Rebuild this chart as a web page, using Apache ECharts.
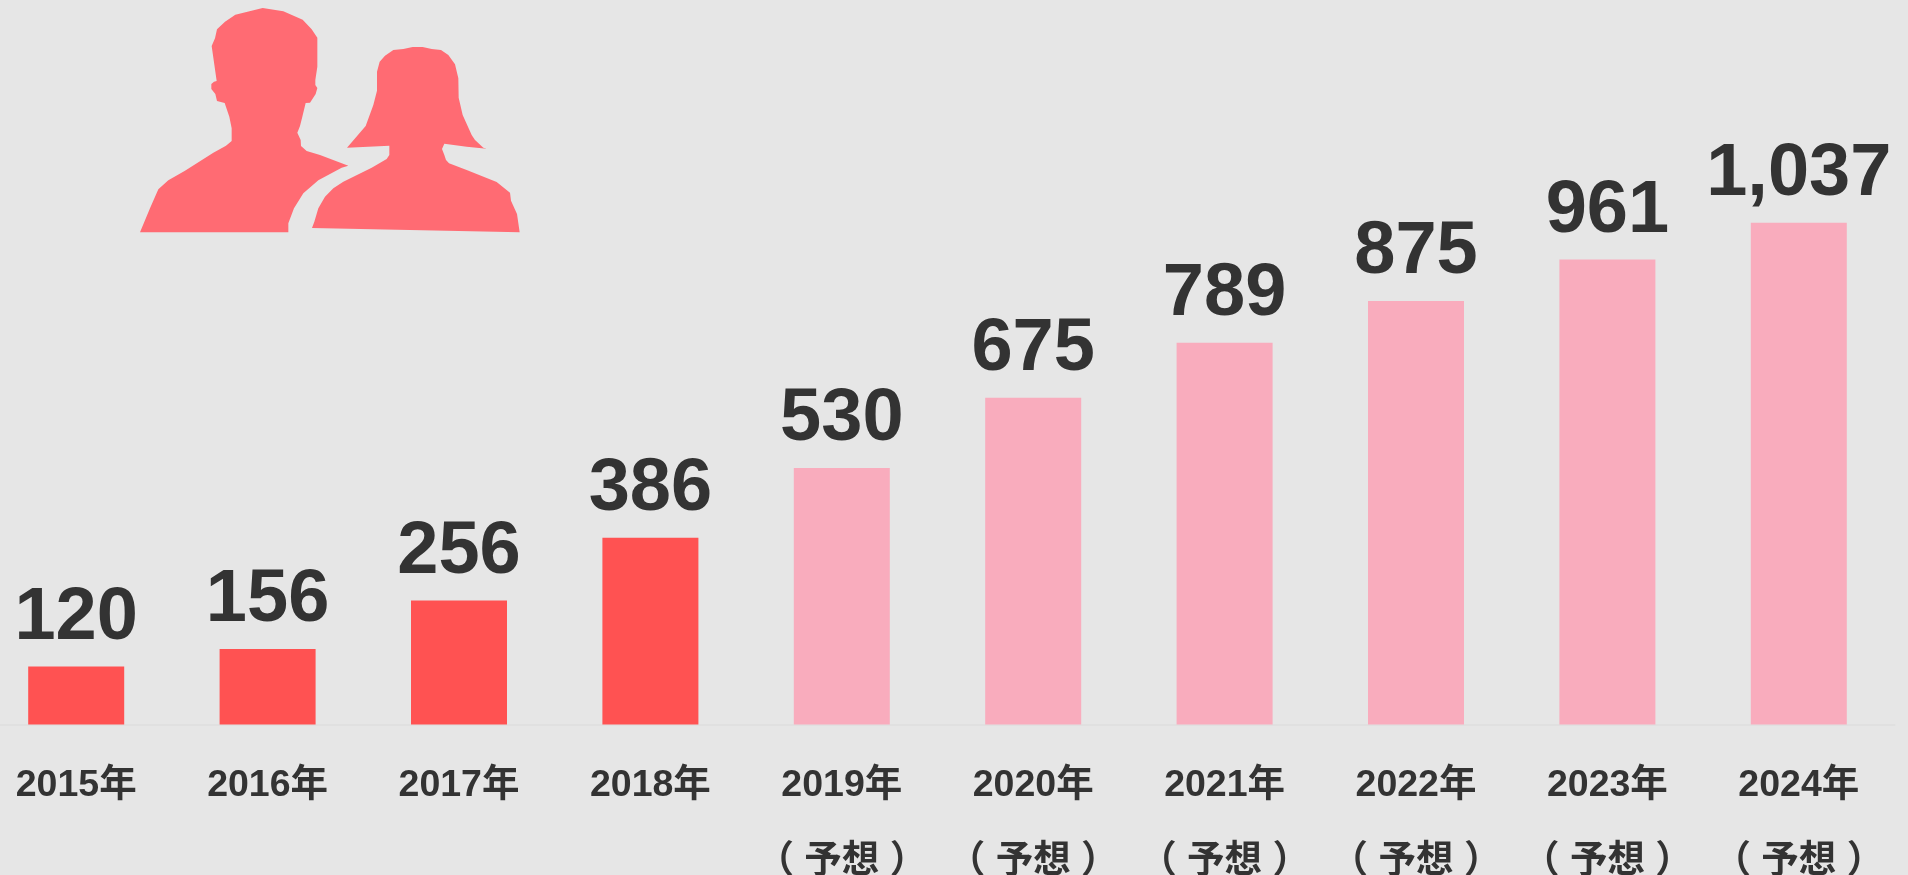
<!DOCTYPE html>
<html><head><meta charset="utf-8">
<style>html,body{margin:0;padding:0;background:#e6e6e6;overflow:hidden}#c{width:1908px;height:875px}</style>
<script src="https://cdn.jsdelivr.net/npm/echarts@6/dist/echarts.min.js"></script>
</head><body><div id="c"></div>
<script>
const years = ['2015年','2016年','2017年','2018年','2019年\n（ 予想 ）','2020年\n（ 予想 ）','2021年\n（ 予想 ）','2022年\n（ 予想 ）','2023年\n（ 予想 ）','2024年\n（ 予想 ）'];
const values = [120,156,256,386,530,675,789,875,961,1037];
const actualCount = 4;
const actualColor = '#ff5252';
const forecastColor = '#f9acbd';
const font = '"Liberation Sans","Noto Sans CJK JP",sans-serif';
const man = [[60,697],[90,625],[115,568],[145,541],[195,512],[280,458],[318,437],[335,423],[335,385],[328,350],[314,309],[291,303],[286,282],[274,267],[274,252],[282,245],[290,243],[275,138],[285,115],[291,88],[315,65],[346,44],[428,24],[490,34],[548,59],[575,88],[592,113],[592,200],[586,240],[586,255],[592,264],[587,282],[570,308],[557,309],[547,350],[540,378],[532,398],[542,420],[543,438],[560,453],[600,465],[685,497],[665,503],[595,541],[550,580],[522,625],[505,670],[505,697]];
const woman = [[576,684],[583,665],[595,625],[615,590],[640,565],[670,545],[755,503],[800,477],[808,465],[808,437],[681,443],[737,378],[760,315],[771,272],[771,215],[779,185],[795,167],[820,150],[850,147],[878,141],[908,141],[935,147],[963,150],[985,165],[1005,193],[1015,235],[1016,293],[1028,345],[1055,405],[1065,420],[1090,443],[1100,446],[1040,440],[973,431],[966,447],[973,465],[978,480],[987,490],[1040,510],[1130,546],[1170,578],[1173,602],[1191,642],[1199,697]];
const toPx = p => p.map(([x,y]) => [120 + x/3, y/3]);
const chart = echarts.init(document.getElementById('c'), null, {renderer:'canvas'});
chart.setOption({
  animation:false,
  backgroundColor:'#e6e6e6',
  grid:{left:-19.5,top:0,width:1914,height:724.5,containLabel:false,outerBoundsMode:'none'},
  xAxis:{type:'category',data:years,
    axisLine:{show:true,lineStyle:{color:'#e0e0e0',width:2}},
    axisTick:{show:false},
    axisLabel:{interval:0,margin:23,color:'#333',fontFamily:font,fontSize:37.5,fontWeight:'bold',lineHeight:76,verticalAlign:'top',hideOverlap:false}},
  yAxis:{type:'value',min:0,max:1497,show:false,splitLine:{show:false}},
  series:[{type:'bar',barWidth:96,
    data:values.map((v,i)=>({value:v,itemStyle:{color:i<actualCount?actualColor:forecastColor}})),
    label:{show:true,position:'top',distance:11,color:'#333',fontFamily:font,fontSize:74,fontWeight:'bold',
      formatter:p=>p.value.toLocaleString('en-US')}}],
  graphic:[
    {type:'polygon',shape:{points:toPx(man)},style:{fill:'#ff6b73'},silent:true},
    {type:'polygon',shape:{points:toPx(woman)},style:{fill:'#ff6b73'},silent:true}
  ]
});
</script></body></html>
